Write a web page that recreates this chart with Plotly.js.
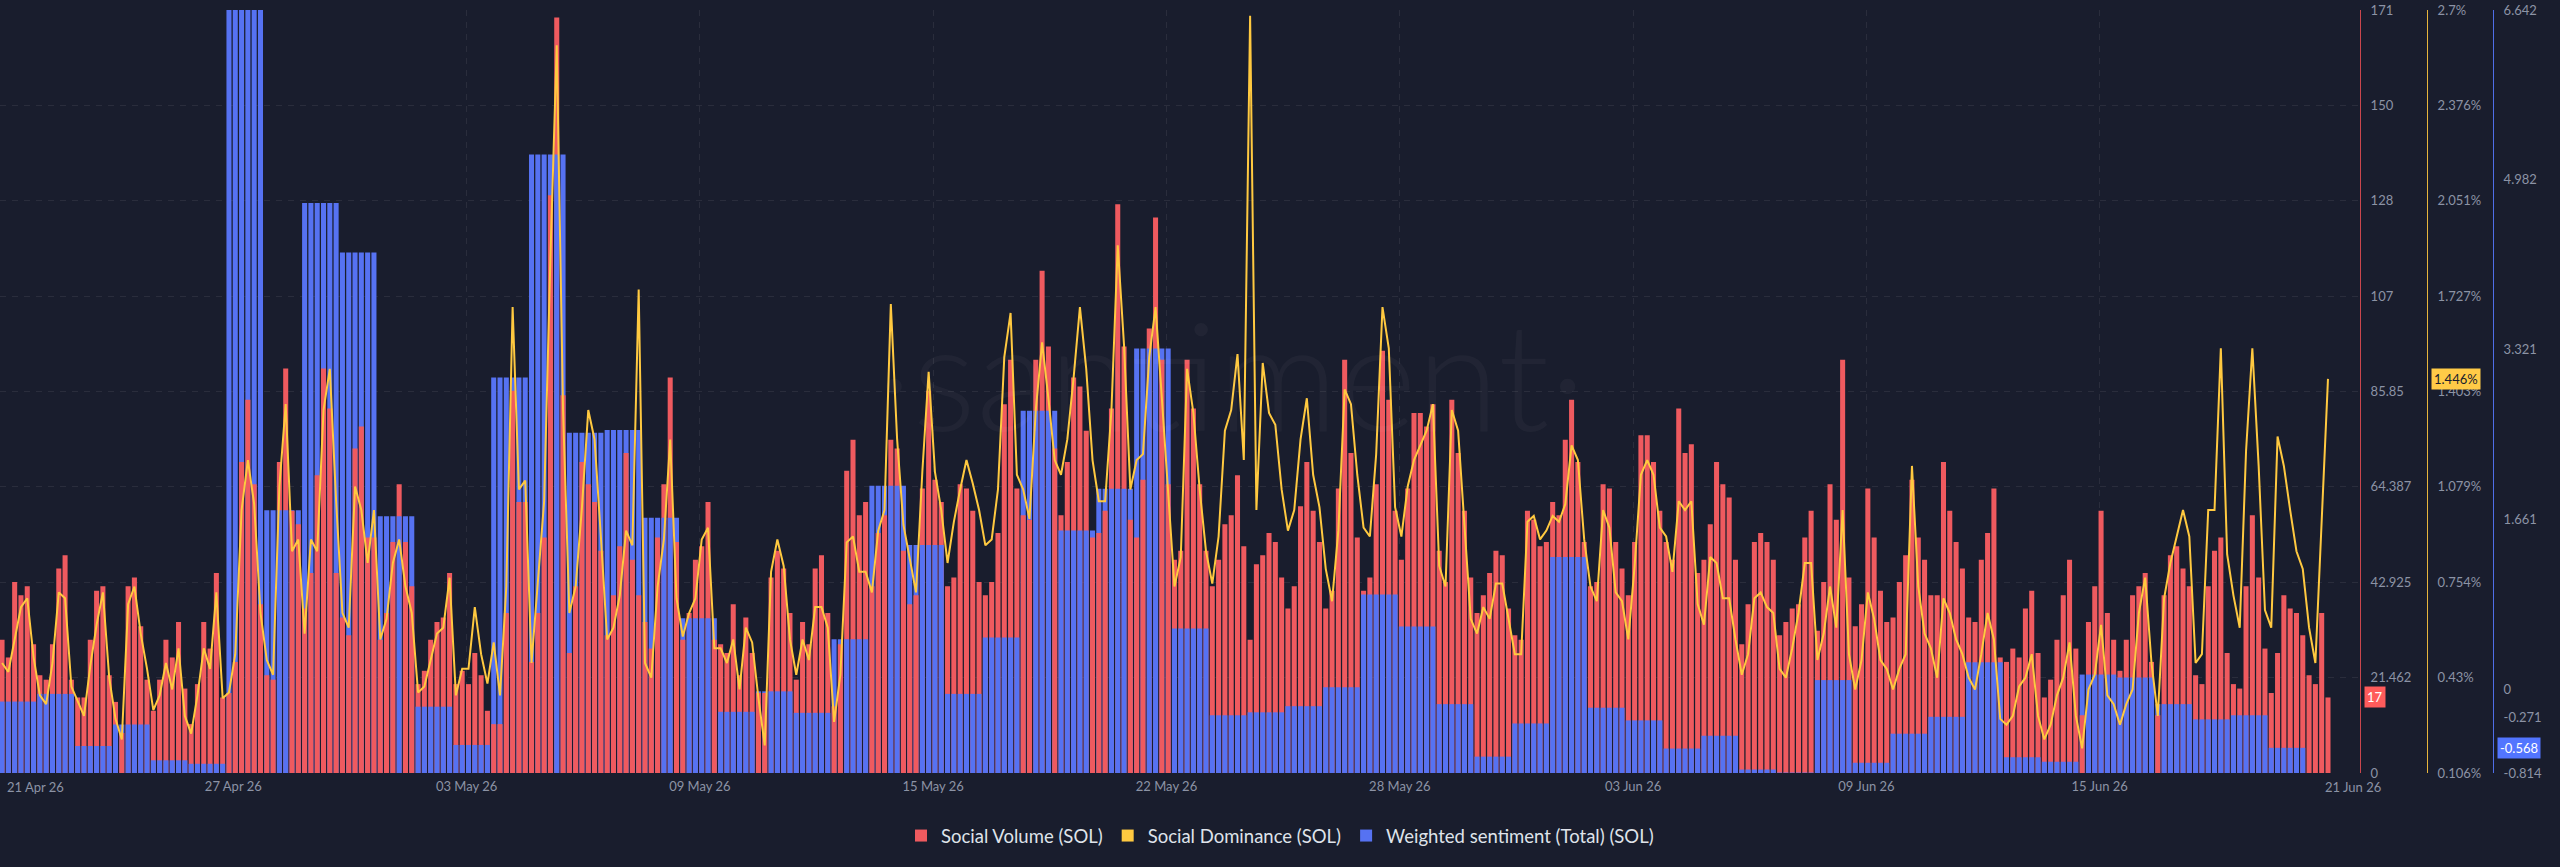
<!DOCTYPE html>
<html>
<head>
<meta charset="utf-8">
<script src="https://cdn.plot.ly/plotly-3.0.1.min.js"></script>
<style>
  html, body { margin: 0; padding: 0; background: #191d2d; }
  #chart { width: 2560px; height: 867px; }
</style>
</head>
<body>
<div id="chart"></div>
<script>
// ---------------- DATA ----------------
const seriesStart = '2026-04-21T00:00:00Z';   // first 4-hour bucket (UTC)
const bucketHours = 4;

// Social Volume (SOL), 4-hour buckets
const socialVolume = [
  30,26,43,40,42,29,  22,21,29,46,49,21,  17,17,30,41,42,22,  16,9,42,44,33,21,
  14,21,30,26,34,19,  11,20,34,28,45,17,  18,25,70,84,65,38,  22,21,70,91,59,56,
  37,45,67,91,82,45,  35,31,73,78,53,53,  30,36,52,65,52,42,  20,23,30,34,35,45,
  20,23,20,27,22,14,  11,11,36,86,61,61,  25,36,53,130,170,85, 27,42,70,65,61,50,
  31,40,51,72,48,40,  34,28,53,65,89,52,  30,36,48,51,61,30,  29,27,38,22,35,27,
  18,18,44,50,46,36,  21,34,29,46,49,36,  15,29,68,75,58,61,  42,54,58,75,73,50,
  38,40,64,86,66,61,  42,44,65,64,59,43,  40,43,54,83,93,64,  58,57,93,113,96,73,
  58,70,89,87,77,53,  54,59,82,128,96,57, 53,66,100,125,93,65, 48,50,93,82,65,50,
  42,48,56,58,67,51,  30,47,49,54,52,44,  37,42,60,70,59,52,  37,41,64,93,72,53,
  41,44,65,95,84,59,  48,64,81,81,78,83,  50,43,84,72,59,44,  36,40,45,50,49,37,
  31,30,59,57,51,52,  61,58,75,84,70,52,  42,43,65,64,52,46,  40,52,76,76,70,59,
  52,48,82,72,74,45,  48,56,70,65,62,48,  29,38,52,54,52,48,  31,34,37,38,53,59,
  32,43,65,57,93,44,  33,38,64,53,41,34,  35,43,49,66,53,48,  40,40,70,59,52,46,
  35,34,48,54,64,26,  25,28,26,37,41,27,  17,21,30,40,48,28,  13,34,42,59,36,30,
  23,30,40,42,45,25,  13,40,49,51,46,42,  22,20,42,50,53,27,  20,19,42,58,44,28,
  18,27,40,37,36,31,  22,20,36,17
];

// Social Dominance (SOL), percent, 4-hour buckets
const socialDominance = [
  0.48,0.45,0.56,0.67,0.70,0.50,  0.37,0.34,0.48,0.72,0.70,0.40,  0.35,0.30,0.47,0.61,0.72,0.43,
  0.29,0.22,0.68,0.74,0.58,0.46,  0.32,0.37,0.48,0.39,0.53,0.30,  0.24,0.37,0.53,0.46,0.72,0.36,
  0.38,0.51,1.00,1.17,1.02,0.65,  0.49,0.44,1.08,1.36,0.86,0.90,  0.58,0.90,0.86,1.34,1.48,1.03,
  0.65,0.60,1.08,1.00,0.82,1.00,  0.56,0.63,0.82,0.90,0.74,0.65,  0.38,0.40,0.49,0.58,0.60,0.77,
  0.37,0.46,0.46,0.67,0.51,0.41,  0.55,0.37,0.74,1.69,1.07,1.10,  0.48,0.74,1.03,1.86,2.58,1.34,
  0.65,0.74,1.01,1.34,1.24,0.91,  0.56,0.60,0.71,0.93,0.88,1.75,  0.48,0.43,0.74,0.90,1.24,0.70,
  0.57,0.65,0.70,0.90,0.94,0.53,  0.53,0.48,0.56,0.39,0.60,0.55,  0.36,0.20,0.79,0.90,0.81,0.56,
  0.44,0.56,0.49,0.67,0.67,0.60,  0.28,0.44,0.89,0.91,0.79,0.79,  0.72,0.93,1.00,1.70,1.24,0.95,
  0.84,0.72,1.13,1.47,1.13,1.00,  0.82,0.96,1.07,1.17,1.09,1.00,  0.88,0.90,1.07,1.52,1.67,1.12,
  1.07,0.97,1.34,1.57,1.38,1.17,  1.12,1.24,1.45,1.69,1.48,1.17,  1.03,1.03,1.34,1.90,1.56,1.07,
  1.17,1.19,1.52,1.69,1.38,1.07,  0.74,0.84,1.48,1.33,1.07,0.86,  0.75,0.91,1.27,1.34,1.53,1.17,
  2.68,1.00,1.50,1.33,1.29,1.07,  0.93,1.00,1.24,1.38,1.12,1.01,  0.80,0.69,0.93,1.41,1.36,1.12,
  0.94,0.91,1.19,1.69,1.55,1.01,  0.91,1.08,1.17,1.22,1.27,1.36,  0.81,0.74,1.34,1.27,0.93,0.63,
  0.58,0.67,0.63,0.75,0.75,0.63,  0.51,0.51,0.96,0.98,0.90,0.93,  0.98,0.96,1.02,1.22,1.17,0.90,
  0.74,0.69,1.00,0.94,0.72,0.69,  0.56,0.81,1.12,1.17,1.12,0.94,  0.91,0.79,1.03,1.00,1.03,0.68,
  0.61,0.84,0.82,0.70,0.70,0.56,  0.44,0.51,0.70,0.72,0.67,0.65,  0.46,0.43,0.53,0.65,0.82,0.82,
  0.49,0.58,0.74,0.60,1.00,0.51,  0.39,0.49,0.72,0.63,0.49,0.46,  0.39,0.46,0.51,1.15,0.74,0.58,
  0.53,0.43,0.70,0.65,0.56,0.51,  0.43,0.39,0.51,0.65,0.56,0.29,  0.27,0.30,0.40,0.43,0.51,0.30,
  0.22,0.27,0.37,0.43,0.55,0.30,  0.19,0.39,0.44,0.61,0.37,0.34,  0.27,0.34,0.39,0.65,0.77,0.48,
  0.30,0.70,0.82,0.91,1.00,0.91,  0.48,0.51,1.00,1.00,1.55,0.85,  0.71,0.60,1.20,1.55,1.15,0.66,
  0.60,1.25,1.15,1.00,0.86,0.80,  0.60,0.48,0.95,1.446
];

// Weighted sentiment (Total) (SOL), daily (21 Apr .. 21 Jun)
const weightedSentiment = [
  -0.116,-0.041,-0.55,-0.34,-0.69,-0.724, 6.642, 1.754, 4.756, 4.273,
   1.694,-0.166,-0.54, 3.051, 5.23, 2.512, 2.537, 1.68, 0.697,-0.216,
  -0.016,-0.226, 0.493, 1.994, 1.415,-0.041, 0.51, 2.727, 1.555, 1.964,
   3.335, 0.597,-0.25,-0.221,-0.161, 0.024, 0.931, 0.617,-0.141,-0.654,
  -0.33, 1.296,-0.176,-0.3,-0.575,-0.45,-0.78,-0.81, 0.094,-0.714,
  -0.43,-0.265, 0.268,-0.66,-0.704, 0.148, 0.119,-0.141,-0.29,-0.25,
  -0.568, null
];

// axis ticks
const xTickDates  = ['2026-04-27 04:45','2026-05-03 08:47','2026-05-09 12:50','2026-05-15 16:54',
                     '2026-05-21 20:56','2026-05-28 00:59','2026-06-03 05:02','2026-06-09 09:06','2026-06-15 13:08'];
const xTickLabels = ['27 Apr 26','03 May 26','09 May 26','15 May 26','22 May 26','28 May 26','03 Jun 26','09 Jun 26','15 Jun 26'];
const xEdgeLabels = ['21 Apr 26','21 Jun 26'];
const xRange = ['2026-04-21 00:42','2026-06-22 10:19'];

const volumeRange = [0, 171.7];
const volumeTickLabels = ['0','21.462','42.925','64.387','85.85','107','128','150','171'];
const dominanceRange = [0.106, 2.7];
const dominanceTickLabels = ['0.106%','0.43%','0.754%','1.079%','1.403%','1.727%','2.051%','2.376%','2.7%'];
const sentimentRange = [-0.814, 6.642];
const sentimentTicks = [-0.814, -0.271, 0, 1.661, 3.321, 4.982, 6.642];
const sentimentTickLabels = ['-0.814','-0.271','0','1.661','3.321','4.982','6.642'];

// ---------------- BUILD ----------------
const HOUR = 3600 * 1000;
const t0 = Date.parse(seriesStart);
function fmt(ms) { return new Date(ms).toISOString().slice(0, 19).replace('T', ' '); }
const xs = socialVolume.map((_, i) => fmt(t0 + (i * bucketHours + bucketHours / 2) * HOUR));
const sentPerBucket = socialVolume.map((_, i) => weightedSentiment[Math.floor(i * bucketHours / 24)]);

const volFrac = v => (v - volumeRange[0]) / (volumeRange[1] - volumeRange[0]);
const sentFrac = s => (s - sentimentRange[0]) / (sentimentRange[1] - sentimentRange[0]);
// the shorter bar of each bucket is drawn in front
const volBack  = socialVolume.map((v, i) => (sentPerBucket[i] == null || volFrac(v) >= sentFrac(sentPerBucket[i])) ? v : null);
const volFront = socialVolume.map((v, i) => (sentPerBucket[i] != null && volFrac(v) <  sentFrac(sentPerBucket[i])) ? v : null);
const sentLen  = sentPerBucket.map(s => s == null ? null : s - sentimentRange[0]);

const RED = '#ef5a5f', BLUE = '#5672f2', YELLOW = '#ffc940';
const barWidth = bucketHours * HOUR * 0.8;
const FONT = 'Lato, "Open Sans", sans-serif';
const tickFont = { family: FONT, size: 13, color: '#8c93a5' };
const gridColor = 'rgba(255,255,255,0.075)';

const traces = [
  { type: 'bar', x: xs, y: volBack, yaxis: 'y', width: barWidth, marker: { color: RED },
    name: 'Social Volume (SOL)', legendrank: 1, hoverinfo: 'skip' },
  { type: 'bar', x: xs, y: sentLen, base: sentimentRange[0], yaxis: 'y2', width: barWidth, marker: { color: BLUE },
    name: 'Weighted sentiment (Total) (SOL)', legendrank: 3, hoverinfo: 'skip' },
  { type: 'bar', x: xs, y: volFront, yaxis: 'y3', width: barWidth, marker: { color: RED },
    showlegend: false, hoverinfo: 'skip' },
  { type: 'scatter', mode: 'lines', x: xs, y: socialDominance, yaxis: 'y4',
    line: { color: YELLOW, width: 2 }, showlegend: false, hoverinfo: 'skip' },
  { type: 'bar', x: [null], y: [null], yaxis: 'y4', marker: { color: YELLOW },
    name: 'Social Dominance (SOL)', legendrank: 2, hoverinfo: 'skip' }
];

const plotRight = 2360 / 2560;
const lastVol = socialVolume[socialVolume.length - 1];
const lastDom = socialDominance[socialDominance.length - 1];
const lastSent = weightedSentiment.filter(v => v != null).slice(-1)[0];

const layout = {
  width: 2560, height: 867,
  paper_bgcolor: '#191d2d', plot_bgcolor: '#191d2d',
  margin: { l: 0, r: 0, t: 10, b: 94 },
  barmode: 'overlay',
  showlegend: true,
  legend: { orientation: 'h', x: 0.5, xanchor: 'center', y: -0.0826, yanchor: 'middle',
            font: { family: FONT, size: 18.5, color: '#dfe3ea' }, bgcolor: 'rgba(0,0,0,0)' },
  xaxis: { type: 'date', domain: [0, plotRight], range: xRange,
           tickmode: 'array', tickvals: xTickDates, ticktext: xTickLabels,
           showgrid: true, gridcolor: gridColor, griddash: '6px,6px', zeroline: false,
           showline: false, ticks: '', tickfont: tickFont, ticklabelstandoff: 4 },
  yaxis: { side: 'right', range: volumeRange,
           tickmode: 'array', tickvals: volumeTickLabels.map((_, k) => volumeRange[0] + k * (volumeRange[1] - volumeRange[0]) / 8),
           ticktext: volumeTickLabels,
           showgrid: true, gridcolor: gridColor, griddash: '6px,6px', zeroline: false,
           showline: true, linecolor: '#c9464d', linewidth: 1, ticks: '', tickfont: tickFont, ticklabelstandoff: 7 },
  yaxis2: { overlaying: 'y', side: 'right', anchor: 'free', position: 2493 / 2560, range: sentimentRange,
            tickmode: 'array', tickvals: sentimentTicks, ticktext: sentimentTickLabels,
            showgrid: false, zeroline: false, showline: true, linecolor: '#4f6ee8', linewidth: 1,
            ticks: '', tickfont: tickFont, ticklabelstandoff: 7 },
  yaxis3: { overlaying: 'y', range: volumeRange, visible: false },
  yaxis4: { overlaying: 'y', side: 'right', anchor: 'free', position: 2427 / 2560, range: dominanceRange,
            tickmode: 'array', tickvals: dominanceTickLabels.map((_, k) => dominanceRange[0] + k * (dominanceRange[1] - dominanceRange[0]) / 8),
            ticktext: dominanceTickLabels,
            showgrid: false, zeroline: false, showline: true, linecolor: '#e8b53c', linewidth: 1,
            ticks: '', tickfont: tickFont, ticklabelstandoff: 7 },
  annotations: [
    { text: '·santiment·', xref: 'paper', yref: 'paper', x: 1231 / 2560, y: 0.524, xanchor: 'center', yanchor: 'middle',
      showarrow: false, font: { family: FONT, size: 150, weight: 300, color: 'rgba(255,255,255,0.035)' } },
    { text: xEdgeLabels[0], xref: 'paper', yref: 'paper', x: 35 / 2560, y: 0, yshift: -14, xanchor: 'center', yanchor: 'middle',
      showarrow: false, font: tickFont },
    { text: xEdgeLabels[1], xref: 'paper', yref: 'paper', x: 2353 / 2560, y: 0, yshift: -14, xanchor: 'center', yanchor: 'middle',
      showarrow: false, font: tickFont },
    { text: String(lastVol), xref: 'paper', yref: 'y', x: 2364 / 2560, y: lastVol, xanchor: 'left', yanchor: 'middle',
      showarrow: false, bgcolor: '#ff5b5b', borderpad: 2, font: { family: FONT, size: 13, color: '#ffffff' } },
    { text: lastDom.toFixed(3) + '%', xref: 'paper', yref: 'y4', x: 2431 / 2560, y: lastDom, xanchor: 'left', yanchor: 'middle',
      showarrow: false, bgcolor: '#ffcb47', borderpad: 2, font: { family: FONT, size: 13, color: '#191d2d' } },
    { text: lastSent.toFixed(3), xref: 'paper', yref: 'y2', x: 2497 / 2560, y: lastSent, xanchor: 'left', yanchor: 'middle',
      showarrow: false, bgcolor: '#5275ff', borderpad: 2, font: { family: FONT, size: 13, color: '#ffffff' } }
  ]
};

Plotly.newPlot('chart', traces, layout, { displayModeBar: false, staticPlot: true });
</script>
</body>
</html>
